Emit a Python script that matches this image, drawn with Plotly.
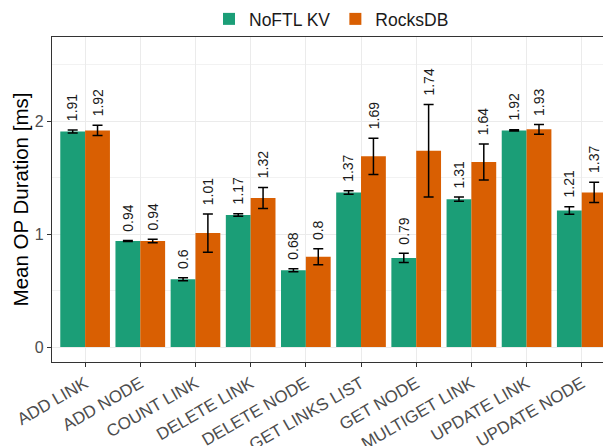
import plotly.graph_objects as go

categories = ["ADD LINK", "ADD NODE", "COUNT LINK", "DELETE LINK", "DELETE NODE",
              "GET LINKS LIST", "GET NODE", "MULTIGET LINK", "UPDATE LINK", "UPDATE NODE"]
noftl_mean = [1.91, 0.94, 0.60, 1.17, 0.68, 1.37, 0.79, 1.31, 1.92, 1.21]
noftl_err = [0.014, 0.005, 0.013, 0.012, 0.013, 0.015, 0.04, 0.019, 0.005, 0.034]
rocks_mean = [1.92, 0.94, 1.01, 1.32, 0.80, 1.69, 1.74, 1.64, 1.93, 1.37]
rocks_err = [0.045, 0.015, 0.17, 0.093, 0.07, 0.16, 0.41, 0.16, 0.043, 0.09]
y_ticks = [0, 1, 2]

GREEN = "#1b9e77"
ORANGE = "#d95f02"
FONT = "Liberation Sans"

fig = go.Figure()
fig.add_trace(go.Bar(
    name="NoFTL KV", x=categories, y=noftl_mean, marker=dict(color=GREEN, line=dict(width=0)),
    error_y=dict(type="data", array=noftl_err, color="black", thickness=1.5, width=5),
))
fig.add_trace(go.Bar(
    name="RocksDB", x=categories, y=rocks_mean, marker=dict(color=ORANGE, line=dict(width=0)),
    error_y=dict(type="data", array=rocks_err, color="black", thickness=1.5, width=5),
))

def fmt(v):
    s = f"{v:.2f}".rstrip("0").rstrip(".")
    return s

annotations = []
for i in range(len(categories)):
    for off, m, e in ((-0.225, noftl_mean[i], noftl_err[i]), (0.225, rocks_mean[i], rocks_err[i])):
        annotations.append(dict(
            x=i + off, y=m + e, xref="x", yref="y", text=fmt(m), showarrow=False,
            textangle=-90, xanchor="center", yanchor="bottom", yshift=7,
            font=dict(family=FONT, size=14, color="#1a1a1a"),
        ))

# page body has an 8px default margin; figure is sized/offset to compensate
fig.update_layout(
    width=603, height=438,
    margin=dict(l=43.5, r=0, t=29, b=83.5, autoexpand=False),
    paper_bgcolor="white", plot_bgcolor="white",
    barmode="group", bargap=0.1, bargroupgap=0,
    font=dict(family=FONT, size=16, color="#4d4d4d"),
    showlegend=True,
    legend=dict(orientation="h", x=0.5, xanchor="center", y=1.0, yanchor="bottom",
                font=dict(family=FONT, size=17.5, color="#1a1a1a"),
                itemwidth=30, tracegroupgap=0, bgcolor="rgba(0,0,0,0)"),
    annotations=annotations,
)
fig.update_xaxes(
    type="category", range=[-0.6, 9.53], tickangle=-30, automargin=False,
    showgrid=True, gridcolor="#ebebeb", gridwidth=1,
    showline=True, linecolor="#333333", linewidth=1.2, mirror=True,
    ticks="outside", ticklen=4, tickcolor="#333333",
    tickfont=dict(family=FONT, size=17, color="#4d4d4d"),
    zeroline=False,
)
fig.update_yaxes(
    range=[-0.133, 2.748], tickvals=y_ticks, automargin=False,
    showgrid=True, gridcolor="#ebebeb", gridwidth=1,
    minor=dict(dtick=0.5, tick0=0, showgrid=True, gridcolor="#f2f2f2", gridwidth=1),
    showline=True, linecolor="#333333", linewidth=1.2,
    ticks="outside", ticklen=4, tickcolor="#333333",
    tickfont=dict(family=FONT, size=16, color="#4d4d4d"),
    zeroline=False,
    title=dict(text="Mean OP Duration [ms]", font=dict(family=FONT, size=20.5, color="#000000"), standoff=0),
)

fig.write_html("out.html")
